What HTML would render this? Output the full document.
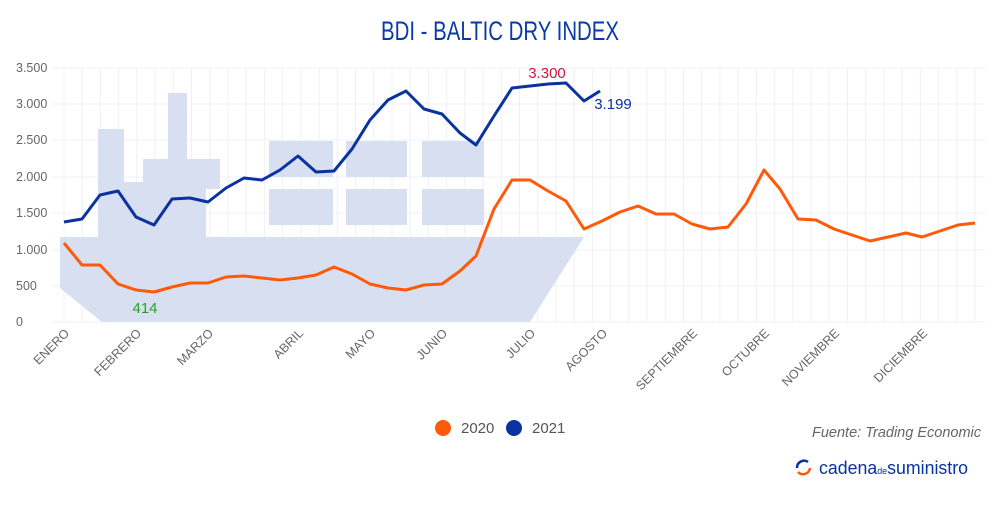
<!DOCTYPE html>
<html><head><meta charset="utf-8"><style>
body{margin:0;background:#fff;width:1000px;height:500px;overflow:hidden}
svg{font-family:"Liberation Sans",sans-serif}
</style></head><body>
<svg width="1000" height="500" viewBox="0 0 1000 500">
<text x="381" y="40" textLength="238" lengthAdjust="spacingAndGlyphs" font-family="'Liberation Sans Narrow','Liberation Sans',sans-serif" font-size="27" fill="#0a3aa8">BDI - BALTIC DRY INDEX</text>
<g stroke="#eef0f7" stroke-width="1">
<line x1="52" y1="68" x2="985" y2="68"/><line x1="52" y1="104" x2="985" y2="104"/><line x1="52" y1="140" x2="985" y2="140"/><line x1="52" y1="177" x2="985" y2="177"/><line x1="52" y1="213" x2="985" y2="213"/><line x1="52" y1="250" x2="985" y2="250"/><line x1="52" y1="286" x2="985" y2="286"/><line x1="52" y1="322" x2="985" y2="322"/>
</g>
<path id="grid" stroke="#eef0f7" fill="none" d=""/>
<g fill="#d8dff0">
<path d="M60,288 L60,237 L98,237 L98,129 L124,129 L124,182 L143,182 L143,159 L168,159 L168,93 L187,93 L187,159 L220,159 L220,189 L206,189 L206,237 L584,237 L530,322 L102,322 Z"/>
<rect x="269" y="141" width="64" height="36"/><rect x="269" y="189" width="64" height="36"/>
<rect x="346" y="141" width="61" height="36"/><rect x="346" y="189" width="61" height="36"/>
<rect x="422" y="141" width="62" height="36"/><rect x="422" y="189" width="62" height="36"/>
</g>
<g font-size="12.5" fill="#666">
<text x="16" y="72">3.500</text><text x="16" y="108">3.000</text><text x="16" y="144">2.500</text><text x="16" y="181">2.000</text><text x="16" y="217">1.500</text><text x="16" y="254">1.000</text><text x="16" y="290">500</text><text x="16" y="326">0</text>
</g>
<g font-size="12.5" fill="#666" text-anchor="end">
<text transform="translate(70,334) rotate(-45)">ENERO</text>
<text transform="translate(142,334) rotate(-45)">FEBRERO</text>
<text transform="translate(214,334) rotate(-45)">MARZO</text>
<text transform="translate(304,334) rotate(-45)">ABRIL</text>
<text transform="translate(376,334) rotate(-45)">MAYO</text>
<text transform="translate(448,334) rotate(-45)">JUNIO</text>
<text transform="translate(536,334) rotate(-45)">JULIO</text>
<text transform="translate(608,334) rotate(-45)">AGOSTO</text>
<text transform="translate(698,334) rotate(-45)">SEPTIEMBRE</text>
<text transform="translate(770,334) rotate(-45)">OCTUBRE</text>
<text transform="translate(840,334) rotate(-45)">NOVIEMBRE</text>
<text transform="translate(928,334) rotate(-45)">DICIEMBRE</text>
</g>
<polyline fill="none" stroke="#ff5a0a" stroke-width="3" stroke-linejoin="round" points="64,243 82,265 100,265 118,284 136,290 154,292 172,287 190,283 208,283 226,277 244,276 262,278 280,280 298,278 316,275 334,267 352,274 370,284 388,288 406,290 424,285 442,284 460,271 476,256 494,209 512,180 530,180 548,191 566,201 584,229 602,221 620,212 638,206 656,214 674,214 692,224 710,229 728,227 746,204 764,170 780,189 798,219 816,220 834,229 852,235 870,241 888,237 906,233 922,237 940,231 958,225 975,223"/>
<polyline fill="none" stroke="#0a32a0" stroke-width="3" stroke-linejoin="round" points="64,222 82,219 100,195 118,191 136,217 154,225 172,199 190,198 208,202 226,188 244,178 262,180 280,170 298,156 316,172 334,171 352,149 370,120 388,100 406,91 424,109 442,114 460,133 476,145 494,116 512,88 530,86 548,84 566,83 584,101 600,91"/>
<text x="547" y="78" font-size="15" fill="#d0143c" text-anchor="middle">3.300</text>
<text x="613" y="109" font-size="15" fill="#0a32a0" text-anchor="middle">3.199</text>
<text x="145" y="313" font-size="15" fill="#2ca02c" text-anchor="middle">414</text>
<circle cx="443" cy="428" r="8" fill="#ff5a0a"/><text x="461" y="433" font-size="15" fill="#555">2020</text>
<circle cx="514" cy="428" r="8" fill="#0a32a0"/><text x="532" y="433" font-size="15" fill="#555">2021</text>
<text x="981" y="437" font-size="15" font-style="italic" fill="#666" text-anchor="end" textLength="169" lengthAdjust="spacingAndGlyphs">Fuente: Trading Economic</text>
<path d="M808,462 A7,7 0 0 0 797,468" fill="none" stroke="#0a32a0" stroke-width="2.5"/>
<path d="M798,472 A7,7 0 0 0 810,468" fill="none" stroke="#ff5a0a" stroke-width="2.5"/>
<text x="819" y="474" font-size="18" fill="#0a32a0" textLength="149" lengthAdjust="spacingAndGlyphs">cadena<tspan font-size="9">de</tspan>suministro</text>
</svg>
<script>
var g=document.getElementById('grid'),d='';
for(var x=64;x<=980;x+=18.22){d+='M'+x.toFixed(1)+',68V322';}
g.setAttribute('d',d);
</script>
</body></html>
